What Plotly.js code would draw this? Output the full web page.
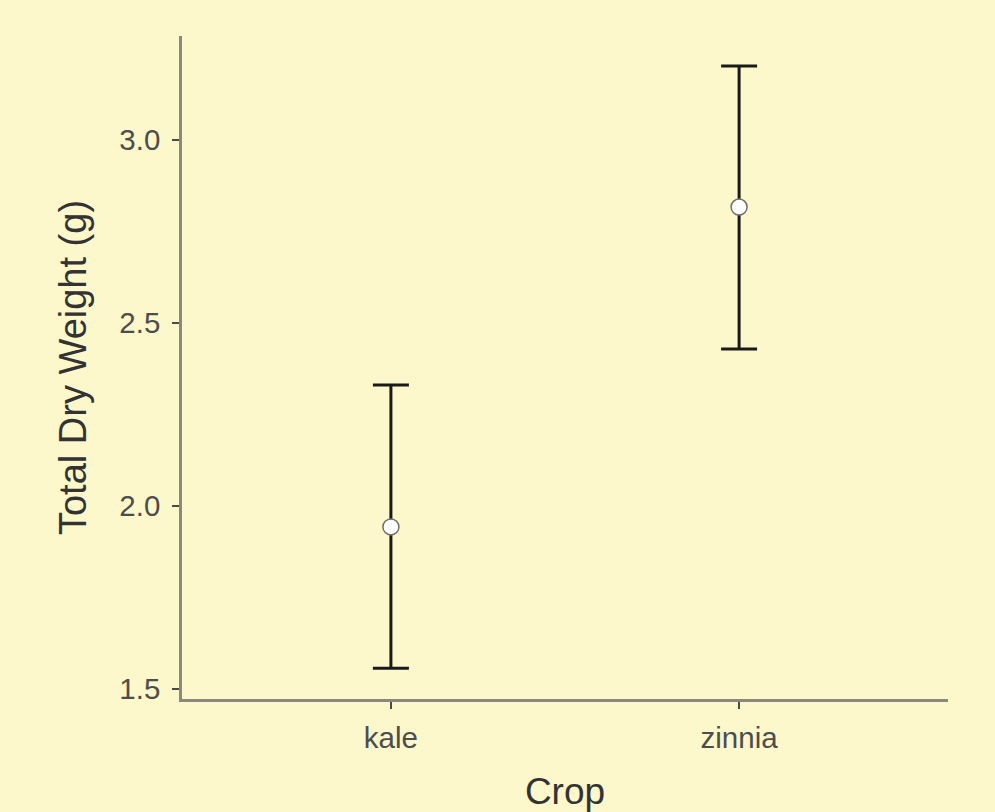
<!DOCTYPE html>
<html>
<head>
<meta charset="utf-8">
<script src="https://cdn.plot.ly/plotly-3.0.1.min.js"></script>
<style>html,body{margin:0;padding:0;background:#FDF8CB;}</style>
</head>
<body>
<div id="chart" style="width:995px;height:812px;"></div>
<script>
const crops = ["kale", "zinnia"];
const meanWeight = [1.943, 2.817];
const upperLimit = [2.331, 3.202];
const lowerLimit = [1.557, 2.429];
const yTickVals = [1.5, 2.0, 2.5, 3.0];
const yTickText = ["1.5", "2.0", "2.5", "3.0"];

const errPlus = meanWeight.map((m, i) => upperLimit[i] - m);
const errMinus = meanWeight.map((m, i) => m - lowerLimit[i]);

const trace = {
  type: "scatter",
  mode: "markers",
  x: crops,
  y: meanWeight,
  marker: {size: 16, color: "#ffffff", line: {color: "#6e6e6e", width: 1.5}},
  error_y: {type: "data", symmetric: false, array: errPlus, arrayminus: errMinus,
            color: "#1a1a1a", thickness: 3, width: 18},
  hoverinfo: "x+y",
  showlegend: false
};

const layout = {
  width: 995, height: 812,
  paper_bgcolor: "#FDF8CB", plot_bgcolor: "#FDF8CB",
  font: {family: "Liberation Sans, Arial, sans-serif", color: "#4d4d4d"},
  margin: {l: 182, r: 47, t: 36, b: 113, pad: 0},
  showlegend: false,
  xaxis: {
    type: "category",
    range: [-0.6, 1.6],
    showgrid: false, zeroline: false,
    showline: true, linecolor: "#8a8a7c", linewidth: 2.5,
    ticks: "outside", ticklen: 7, tickwidth: 2, tickcolor: "#4a4a4a",
    ticklabelstandoff: 4,
    tickfont: {size: 29.5, color: "#4d4d4d"},
    title: {text: "Crop", font: {size: 37, color: "#333333"}, standoff: 26},
    automargin: false
  },
  yaxis: {
    range: [1.4728, 3.2843],
    tickvals: yTickVals, ticktext: yTickText,
    showgrid: false, zeroline: false,
    showline: true, linecolor: "#8a8a7c", linewidth: 2.5,
    ticks: "outside", ticklen: 7, tickwidth: 2, tickcolor: "#4a4a4a",
    ticklabelstandoff: 6,
    tickfont: {size: 29.5, color: "#4d4d4d"},
    title: {text: "Total Dry Weight (g)", font: {size: 38, color: "#333333"}, standoff: 22},
    automargin: false
  }
};

Plotly.newPlot("chart", [trace], layout, {displayModeBar: false});
</script>
</body>
</html>
